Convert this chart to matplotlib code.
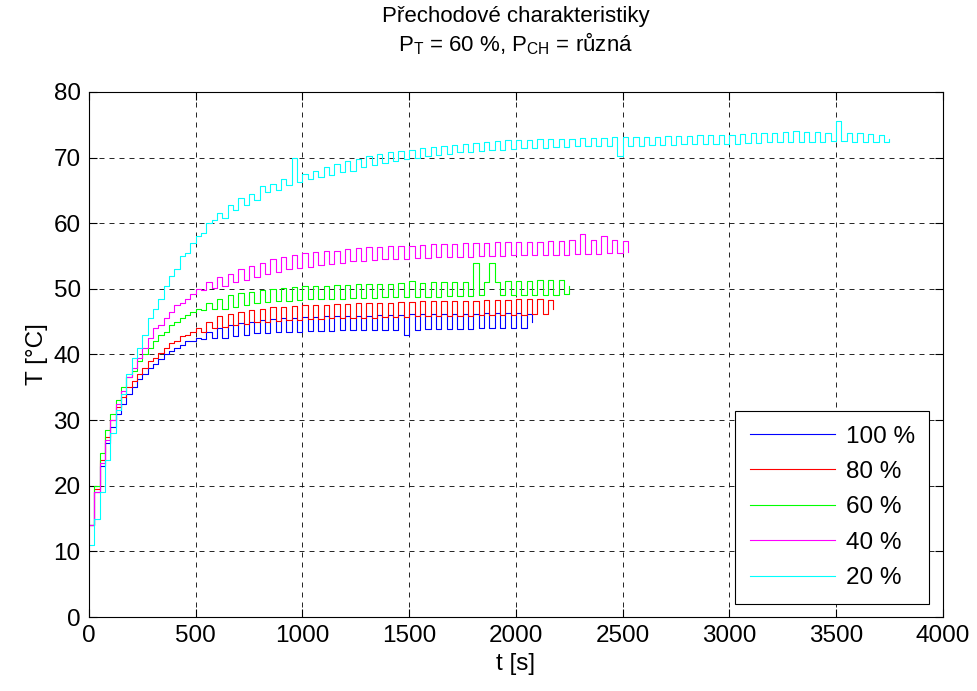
import numpy as np
import matplotlib
matplotlib.use('Agg')
import matplotlib.pyplot as plt

plt.rcParams['font.family'] = ['Liberation Sans', 'DejaVu Sans']
plt.rcParams['mathtext.fontset'] = 'custom'
plt.rcParams['mathtext.rm'] = 'Liberation Sans'
plt.rcParams['mathtext.it'] = 'Liberation Sans'

# temperatures, one sample every 25 s (deg C)
dt = 25
t_20 = [11, 15, 19, 24, 28, 31.5, 34, 37, 39.5, 41, 43, 45.5, 47, 48.5, 50.5, 52, 53, 55, 55.5, 57, 58, 58.5, 60, 60.5,
        61.5, 60.8, 62.8, 62, 63.8, 62.8, 64.5, 63.5, 65.6, 64.8, 66, 65, 66.8, 65.8, 70, 66.2, 67.5, 66.8, 68, 67, 68.6, 67.3, 69, 67.8,
        69.5, 68, 69.8, 68.5, 70.2, 68.8, 70.5, 69.2, 70.8, 69.5, 71, 69.8, 71.2, 70, 71.4, 70.2, 71.6, 70.4, 71.8, 70.6, 71.9, 70.8, 72, 70.9,
        72.2, 71, 72.4, 71.1, 72.5, 71.2, 72.6, 71.3, 72.6, 71.4, 72.7, 71.5, 72.8, 71.5, 72.8, 71.6, 72.9, 71.6, 72.9, 71.7, 73, 71.7, 73, 71.7,
        73, 71.8, 73.1, 70.2, 73.1, 71.8, 73.1, 71.8, 73.2, 71.9, 73.2, 71.9, 73.3, 71.9, 73.3, 72, 73.3, 72, 73.4, 72, 73.4, 72, 73.5, 72.1,
        73.5, 72.1, 73.6, 72.2, 73.7, 72.2, 73.8, 72.3, 73.8, 72.3, 73.9, 72.3, 74, 72.4, 73.9, 72.4, 73.9, 72.4, 73.8, 72.5, 75.5, 72.5, 73.7, 72.4,
        73.7, 72.4, 73.6, 72.3, 73.5, 72.3, 72.8]
t_40 = [14, 19, 23.5, 27, 30, 32.5, 34.5, 36.5, 38, 39.5, 41, 42.5, 44, 44.5, 45.5, 46.5, 47.5, 47.8, 48.5, 49.2, 50, 49.8, 51, 50.2,
        51.8, 50.5, 52.3, 51, 53, 51.3, 53.5, 51.8, 54, 52.2, 54.5, 52.5, 54.8, 53, 55.2, 53.2, 55.5, 53.4, 55.6, 53.6, 55.7, 53.8, 55.8, 54,
        56, 54.2, 56.2, 54.3, 56.3, 54.4, 56.4, 54.5, 56.5, 54.6, 56.6, 54.6, 56.6, 54.7, 56.7, 54.7, 56.8, 54.8, 56.8, 54.8, 56.9, 54.9, 57, 54.9,
        57, 55, 57, 55, 57.1, 55, 57.1, 55.1, 57.2, 55.1, 57.2, 55.1, 57.2, 55.2, 57.3, 55.2, 57.3, 55.2, 57.4, 55.3, 58.3, 55.3, 57.4, 55.3,
        58, 55.4, 57.5, 55.4, 57.3, 55.6]
t_60 = [14, 20, 25, 28.5, 31, 33, 35, 36.5, 37.5, 39, 40, 41, 42, 43, 43.5, 44.5, 45, 45.5, 46, 46.5, 47, 46.8, 47.8, 47,
        48.5, 47, 49, 47.3, 49.3, 47.5, 49.5, 47.8, 49.8, 48, 50, 48.1, 50.2, 48.2, 50.3, 48.3, 50.4, 48.4, 50.5, 48.4, 50.5, 48.5, 50.6, 48.5,
        50.6, 48.6, 50.7, 48.6, 50.7, 48.6, 50.8, 48.7, 50.8, 48.7, 50.9, 48.7, 51.2, 48.8, 50.9, 48.8, 51, 48.8, 51, 48.9, 51, 48.9, 51.1, 48.9,
        54, 49, 51.1, 54, 51.1, 49, 51.2, 49, 51.2, 49, 51.2, 49.1, 51.3, 49.1, 51.3, 49.1, 51.4, 49.2, 50.5]
t_80 = [14, 19.5, 24, 27.5, 30, 32, 33.5, 35, 36, 37, 38, 39, 39.5, 40.3, 41, 41.8, 42, 42.8, 43, 43.5, 44, 43.5, 45, 44,
        45.8, 44.2, 46.2, 44.5, 46.5, 44.7, 46.8, 44.9, 47, 45, 47.2, 45.1, 47.3, 45.2, 47.4, 45.3, 47.5, 45.4, 47.6, 45.4, 47.6, 45.5, 47.7, 45.5,
        47.7, 45.6, 47.8, 45.6, 47.8, 45.6, 47.9, 45.7, 47.9, 45.7, 48, 45.7, 48, 45.8, 48.1, 45.8, 48.1, 45.8, 48.1, 45.9, 48.2, 45.9, 48.2, 45.9,
        48.2, 46, 48.3, 46, 48.3, 46, 48.3, 46, 48.4, 46, 48.4, 46.1, 48.4, 46.1, 48.3, 47]
t_100 = [14, 19, 23, 26.5, 29, 31, 32.5, 34, 35, 36.3, 37, 38, 38.5, 39.3, 40, 40.5, 41, 41.5, 42, 42, 42.5, 42.3, 43.5, 42.5,
         44, 42.5, 44.5, 42.8, 44.8, 43, 45, 43.2, 45.2, 43.3, 45.4, 43.4, 45.5, 43.5, 45.6, 43.5, 45.7, 43.6, 45.7, 43.6, 45.8, 43.6, 45.8, 43.7,
         45.8, 43.7, 45.9, 43.7, 45.9, 43.7, 46, 43.8, 46, 43.8, 46, 43, 46.1, 43.8, 46.1, 43.9, 46.1, 43.9, 46.2, 43.9, 46.2, 43.9, 46.2, 43.9,
         46.2, 44, 46.3, 44, 46.3, 44, 46.3, 44, 46.3, 44, 46.2, 45]

series = [('100 %', t_100, '#0000ff'), ('80 %', t_80, '#ff0000'), ('60 %', t_60, '#00ff00'),
          ('40 %', t_40, '#ff00ff'), ('20 %', t_20, '#00ffff')]

fig = plt.figure(figsize=(9.78, 6.91), dpi=100)
ax = fig.add_axes([0.091, 0.107, 0.873, 0.760])

for label, vals, col in series:
    t = np.arange(len(vals)) * dt
    ax.plot(t, vals, color=col, lw=0.8, drawstyle='steps-post', label=label)

fs = 17.5
ax.set_xlim(0, 4000)
ax.set_ylim(0, 80)
ax.set_xticks(np.arange(0, 4001, 500))
ax.set_yticks(np.arange(0, 81, 10))
ax.tick_params(direction='in', top=True, right=True, length=6, labelsize=fs, pad=6)
ax.grid(True, color='k', linestyle=(0, (6, 6)), linewidth=0.6)
for s in ax.spines.values():
    s.set_linewidth(0.8)

ax.set_xlabel('t [s]', fontsize=fs, labelpad=4)
ax.set_ylabel('T [°C]', fontsize=fs)
ax.set_title('Přechodové charakteristiky\n'
             r'$\mathregular{P_T}$ = 60 %, $\mathregular{P_{CH}}$ = různá',
             fontsize=16, linespacing=1.15, pad=29)

leg = ax.legend(loc='lower right', fontsize=fs, fancybox=False, edgecolor='k',
                framealpha=1, handlelength=3.5, handletextpad=0.45,
                labelspacing=0.55, borderpad=0.6, borderaxespad=0.55)
leg.get_frame().set_linewidth(0.8)
for h in leg.get_lines():
    h.set_linewidth(0.8)

fig.savefig('out.png', dpi=100)
